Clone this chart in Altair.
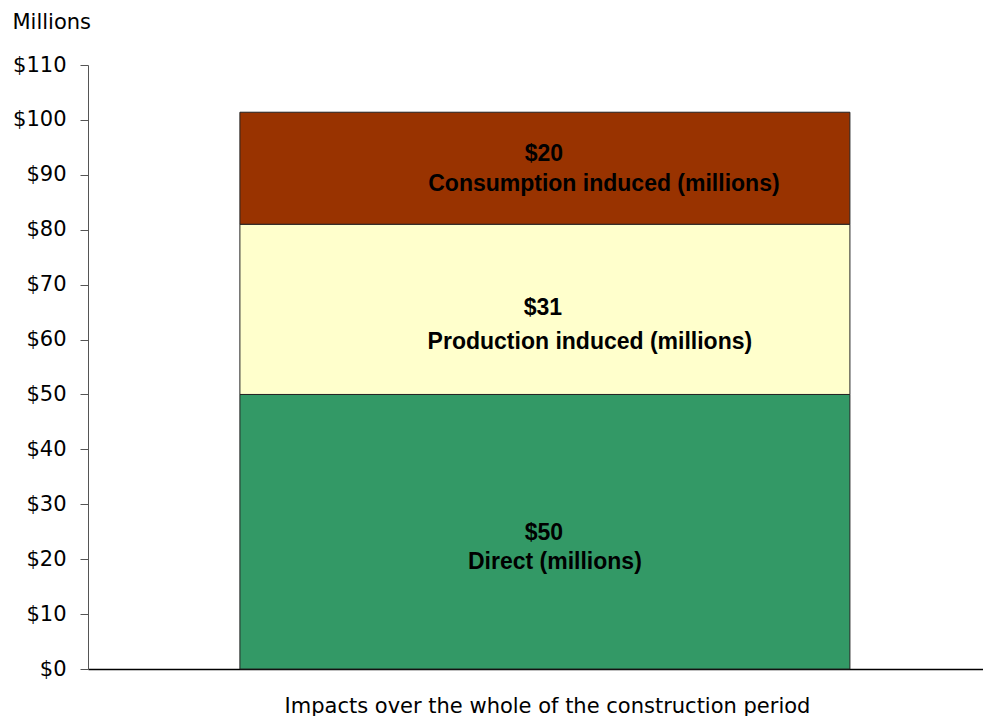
import altair as alt
import pandas as pd

categories = ["Direct (millions)", "Production induced (millions)", "Consumption induced (millions)"]
values = [50.0, 31.0, 20.4]
value_labels = ["$50", "$31", "$20"]
colors = ["#339966", "#FFFFCC", "#993300"]
x_category = "Impacts over the whole of the construction period"
y_ticks = [0, 10, 20, 30, 40, 50, 60, 70, 80, 90, 100, 110]

df = pd.DataFrame({
    "cat": categories,
    "value": values,
    "vlabel": value_labels,
    "order": [0, 1, 2],
    "x": [x_category] * 3,
})
cum = df["value"].cumsum()
df["y0"] = cum - df["value"]
df["y1"] = cum
df["mid"] = (df["y0"] + df["y1"]) / 2

FONT = "DejaVu Sans"
LFONT = "Liberation Sans"

xscale = alt.Scale(paddingInner=0, paddingOuter=0.2336, align=0.533)
yscale = alt.Scale(domain=[0, 110], nice=False)

bars = alt.Chart(df).mark_bar(stroke="#222222", strokeWidth=1).encode(
    x=alt.X("x:N", scale=xscale,
            axis=alt.Axis(title=x_category, labels=False, ticks=False,
                          domainColor="#000000", domainWidth=1.5,
                          titleFont=FONT, titleFontSize=21, titleFontWeight="normal",
                          titleColor="#000000", titlePadding=26, titleX=459)),
    y=alt.Y("y0:Q", scale=yscale,
            axis=alt.Axis(title="Millions", values=y_ticks, format="$,.0f",
                          grid=False, tickSize=8, tickColor="#555555",
                          domainColor="#555555", labelPadding=14,
                          labelFont=FONT, labelFontSize=21, labelColor="#000000",
                          titleFont=FONT, titleFontSize=21, titleFontWeight="normal",
                          titleColor="#000000", titleAngle=0, titleAlign="left",
                          titleBaseline="alphabetic", titleX=-76, titleY=-37)),
    y2="y1:Q",
    color=alt.Color("cat:N", scale=alt.Scale(domain=categories, range=colors), legend=None),
)

offsets = {
    0: ((-1, 1), (10, 30)),
    1: ((-2, -1), (45, 33)),
    2: ((-1, -14), (59, 16)),
}

layers = [bars]
for i in range(3):
    sub = df[df["order"] == i]
    (vdx, vdy), (ldx, ldy) = offsets[i]
    layers.append(alt.Chart(sub).mark_text(
        font=LFONT, fontSize=23, fontWeight="bold", color="#000000",
        dx=vdx, dy=vdy, baseline="middle").encode(
        x=alt.X("x:N", scale=xscale), y=alt.Y("mid:Q", scale=yscale), text="vlabel:N"))
    layers.append(alt.Chart(sub).mark_text(
        font=LFONT, fontSize=23, fontWeight="bold", color="#000000",
        dx=ldx, dy=ldy, baseline="middle").encode(
        x=alt.X("x:N", scale=xscale), y=alt.Y("mid:Q", scale=yscale), text="cat:N"))

chart = alt.layer(*layers).properties(
    width=895, height=604,
    padding={"left": 4, "top": 3, "right": 0, "bottom": 0},
).configure_view(stroke=None)

chart.save("out.html", embed_options={"renderer": "svg", "actions": False})
